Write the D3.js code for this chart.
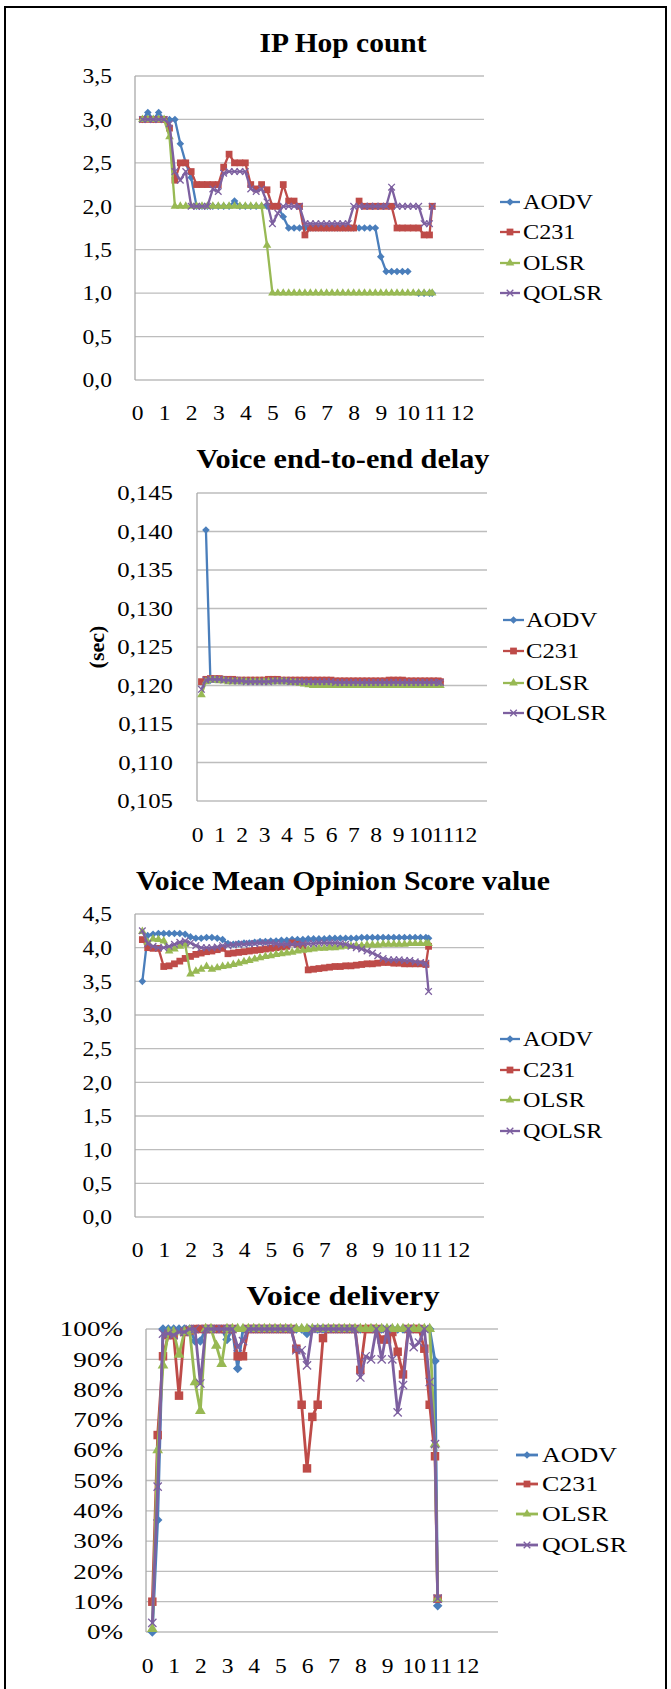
<!DOCTYPE html>
<html>
<head>
<meta charset="utf-8">
<script src="https://cdn.jsdelivr.net/npm/d3@7"></script>
<style>
  body { margin: 0; background: #fff; }
  svg { display: block; }
  text { font-family: 'Liberation Serif', 'Times New Roman', serif; fill: #000; }
</style>
</head>
<body>
<svg id="chart" width="671" height="1689"></svg>
<script>
// ---- data (time in the x unit of the axis) ----
var times = [0.2,0.4,0.6,0.8,1.0,1.2,1.4,1.6,1.8,2.0,
             2.2,2.4,2.6,2.8,3.0,3.2,3.4,3.6,3.8,4.0,
             4.2,4.4,4.6,4.8,5.0,5.2,5.4,5.6,5.8,6.0,
             6.2,6.4,6.6,6.8,7.0,7.2,7.4,7.6,7.8,8.0,
             8.2,8.4,8.6,8.8,9.0,9.2,9.4,9.6,9.8,10.0,
             10.2,10.4,10.6,10.8,10.9];
var xTicks = [0,1,2,3,4,5,6,7,8,9,10,11,12];
var series = ["AODV", "C231", "OLSR", "QOLSR"];

// IP Hop count
var hopTicks = [0,0.5,1,1.5,2,2.5,3,3.5];
var hopAODV = [3.0,3.08,3.0,3.08,3.0,3.0,3.0,2.72,2.5,2.33,
               2.0,2.0,2.0,2.0,2.0,2.0,2.0,2.06,2.0,2.0,
               2.0,2.0,2.0,2.0,2.0,2.0,1.88,1.75,1.75,1.75,
               1.75,1.75,1.75,1.75,1.75,1.75,1.75,1.75,1.75,1.75,
               1.75,1.75,1.75,1.75,1.42,1.25,1.25,1.25,1.25,1.25,
               null,1.0,1.0,1.0,1.0];
var hopC231 = [3.0,3.0,3.0,3.0,3.0,2.9,2.3,2.5,2.5,2.4,
               2.25,2.25,2.25,2.25,2.25,2.45,2.6,2.5,2.5,2.5,
               2.25,2.2,2.25,2.19,2.0,2.0,2.25,2.06,2.06,2.0,
               1.67,1.75,1.75,1.75,1.75,1.75,1.75,1.75,1.75,1.75,
               2.06,2.0,2.0,2.0,2.0,2.0,2.0,1.75,1.75,1.75,
               1.75,1.75,1.67,1.67,2.0];
var hopOLSR = [3.0,3.0,3.0,3.0,3.0,2.8,2.0,2.0,2.0,2.0,
               2.0,2.0,2.0,2.0,2.0,2.0,2.0,2.0,2.0,2.0,
               2.0,2.0,2.0,1.55,1.0,1.0,1.0,1.0,1.0,1.0,
               1.0,1.0,1.0,1.0,1.0,1.0,1.0,1.0,1.0,1.0,
               1.0,1.0,1.0,1.0,1.0,1.0,1.0,1.0,1.0,1.0,
               1.0,1.0,1.0,1.0,1.0];
var hopQOLSR = [3.0,3.0,3.0,3.0,3.0,2.95,2.4,2.3,2.4,2.0,
                2.0,2.0,2.0,2.2,2.17,2.38,2.4,2.4,2.4,2.4,
                2.2,2.17,2.2,2.05,1.8,1.92,2.0,2.0,2.0,2.0,
                1.8,1.8,1.8,1.8,1.8,1.8,1.8,1.8,1.8,2.0,
                2.0,2.0,2.0,2.0,2.0,2.0,2.22,2.0,2.0,2.0,
                2.0,2.0,1.8,1.8,2.0];

// Voice end-to-end delay (sec)
var delayTicks = [0.105,0.11,0.115,0.12,0.125,0.13,0.135,0.14,0.145];
var delayAODV = [null,0.1402,0.1207,0.1208,0.1208,0.1208,0.1207,0.1207,0.1207,0.1206,
                 0.1206,0.1206,0.1206,0.1206,0.1206,0.1206,0.1206,0.1207,0.1206,0.1206,
                 0.1206,0.1206,0.1206,0.1206,0.1205,0.1205,0.1205,0.1205,0.1205,0.1205,
                 0.1205,0.1205,0.1205,0.1205,0.1205,0.1205,0.1205,0.1205,0.1205,0.1205,
                 0.1205,0.1205,0.1205,0.1205,0.1205,0.1205,0.1205,0.1205,0.1205,0.1205,
                 0.1205,0.1205,0.1205,0.1205,0.1205];
var delayC231 = [0.1205,0.1208,0.1209,0.1209,0.1209,0.1208,0.1208,0.1208,0.1207,0.1207,
                 0.1207,0.1207,0.1207,0.1207,0.1207,0.1208,0.1208,0.1208,0.1207,0.1207,
                 0.1207,0.1207,0.1207,0.1207,0.1207,0.1207,0.1207,0.1207,0.1207,0.1207,
                 0.1206,0.1206,0.1206,0.1206,0.1206,0.1206,0.1206,0.1206,0.1206,0.1206,
                 0.1206,0.1206,0.1207,0.1207,0.1207,0.1207,0.1206,0.1206,0.1206,0.1206,
                 0.1206,0.1206,0.1206,0.1206,0.1205];
var delayOLSR = [0.1188,0.1205,0.1207,0.1207,0.1206,0.1206,0.1205,0.1205,0.1205,0.1205,
                 0.1205,0.1205,0.1205,0.1205,0.1205,0.1205,0.1205,0.1205,0.1205,0.1205,
                 0.1204,0.1204,0.1203,0.1202,0.1201,0.1200,0.1200,0.1200,0.1200,0.1200,
                 0.1200,0.1200,0.1200,0.1200,0.1200,0.1200,0.1200,0.1200,0.1200,0.1200,
                 0.1200,0.1200,0.1200,0.1200,0.1200,0.1200,0.1200,0.1200,0.1200,0.1200,
                 0.1200,0.1200,0.1200,0.1200,0.1200];
var delayQOLSR = [0.1195,0.1207,0.1208,0.1208,0.1208,0.1207,0.1207,0.1206,0.1206,0.1206,
                  0.1205,0.1205,0.1205,0.1205,0.1205,0.1205,0.1206,0.1206,0.1206,0.1206,
                  0.1205,0.1205,0.1205,0.1205,0.1205,0.1205,0.1205,0.1205,0.1205,0.1205,
                  0.1204,0.1204,0.1204,0.1204,0.1204,0.1204,0.1204,0.1204,0.1204,0.1204,
                  0.1204,0.1204,0.1204,0.1204,0.1204,0.1204,0.1204,0.1204,0.1204,0.1204,
                  0.1204,0.1204,0.1204,0.1204,0.1204];

// Voice Mean Opinion Score value
var mosTicks = [0,0.5,1,1.5,2,2.5,3,3.5,4,4.5];
var mosAODV = [3.5,4.18,4.2,4.21,4.21,4.21,4.21,4.21,4.2,4.16,
               4.14,4.14,4.15,4.15,4.14,4.12,4.06,4.05,4.06,4.07,
               4.07,4.08,4.09,4.09,4.1,4.1,4.11,4.11,4.12,4.12,
               4.12,4.13,4.13,4.13,4.13,4.14,4.14,4.14,4.14,4.14,
               4.14,4.15,4.15,4.15,4.15,4.15,4.15,4.15,4.15,4.15,
               4.15,4.15,4.15,4.15,4.14];
var mosC231 = [4.12,4.0,3.99,3.99,3.72,3.73,3.76,3.8,3.84,3.87,
               3.9,3.92,3.94,3.95,3.97,3.99,3.91,3.92,3.93,3.94,
               3.95,3.96,3.97,3.98,3.99,4.0,4.01,4.02,4.07,4.05,
               4.03,3.67,3.68,3.69,3.7,3.71,3.72,3.72,3.73,3.73,
               3.74,3.75,3.76,3.76,3.77,3.78,3.78,3.77,3.77,3.76,
               3.76,3.76,3.76,3.75,4.02];
var mosOLSR = [4.24,4.08,4.13,4.12,4.1,3.95,3.98,4.02,4.05,3.61,
               3.65,3.68,3.72,3.68,3.7,3.72,3.73,3.75,3.77,3.79,
               3.81,3.83,3.85,3.87,3.88,3.9,3.91,3.92,3.93,3.95,
               3.96,3.97,3.98,3.99,3.99,4.0,4.0,4.01,4.02,4.02,
               4.03,4.03,4.04,4.04,4.04,4.05,4.05,4.05,4.05,4.05,
               4.06,4.06,4.06,4.06,4.06];
var mosQOLSR = [4.25,4.06,4.02,4.0,4.0,4.02,4.05,4.08,4.1,4.07,
                4.03,4.0,4.0,4.0,4.01,4.03,4.03,4.04,4.05,4.05,
                4.06,4.06,4.07,4.07,4.07,4.06,4.05,4.05,4.05,4.05,
                4.06,4.06,4.06,4.07,4.07,4.07,4.07,4.06,4.05,4.02,
                4.0,3.98,3.95,3.92,3.88,3.84,3.82,3.82,3.82,3.81,
                3.81,3.79,3.78,3.77,3.35];

// Voice delivery (%)
var pctTicks = [0,10,20,30,40,50,60,70,80,90,100];
var delivAODV = [0,37,100,100,100,100,100,100,96,96,
                 100,100,100,100,96.5,100,87,100,100,100,
                 100,100,100,100,100,100,100,100,100,98.5,
                 100,100,100,100,100,100,100,100,100,100,
                 100,100,100,100,100,100,100,100,100,100,
                 100,100,100,89.4,8.7];
var delivC231 = [10,65,91,98,98,78,99,99.5,100,100,
                 100,100,100,100,100,100,91,91,100,100,
                 100,100,100,100,100,100,100,93.5,75,54,
                 71,75,97,100,100,100,100,100,100,86.5,
                 100,100,100,96.5,96.5,99,92.5,85,100,100,
                 100,93.5,75,58,11];
var delivOLSR = [1,60,88,99,99,91.5,99,99.5,82.5,73,
                 100,100,94.5,88.5,100,100,100,100,100,100,
                 100,100,100,100,100,100,100,100,100,100,
                 100,100,100,100,100,100,100,100,100,100,
                 100,100,100,100,100,100,100,100,100,100,
                 100,100,100,62,11];
var delivQOLSR = [3,48,98.5,98.5,98,99,99,100,100,82,
                  100,100,100,100,100,100,94,96,100,100,
                  100,100,100,100,100,100,100,93,93,88,
                  100,100,100,100,100,100,100,100,100,84,
                  91,90,100,90,100,90,72.5,81.5,100,94,
                  95.5,100,82.5,62,11];

// ---- drawing ----
var colors = ["#4a7ebb", "#be4b48", "#98b954", "#7d60a0"];
var loc = d3.formatLocale({decimal: ",", thousands: ".", grouping: [3], currency: ["", "€"]});

var svg = d3.select("#chart");

function stretch(sel, k) {
    sel.each(function () {
        var w = this.getComputedTextLength();
        d3.select(this).attr("textLength", w * k).attr("lengthAdjust", "spacingAndGlyphs");
    });
}

// excel-like markers: diamond, square, triangle, x
function marker(sel, i, s) {
    if (i == 3) {
        var a = 3.3 * s;
        sel.append("path").attr("d", "M" + -a + "," + -a + "L" + a + "," + a + "M" + -a + "," + a + "L" + a + "," + -a)
            .attr("stroke", colors[i]).attr("stroke-width", 1.3).attr("fill", "none");
    } else if (i == 0) {
        var r = 3.8 * s;
        sel.append("path").attr("d", "M0," + -r + "L" + r + ",0L0," + r + "L" + -r + ",0Z").attr("fill", colors[i]);
    } else {
        var type = [null, d3.symbolSquare, d3.symbolTriangle][i];
        var size = [0, 46, 32][i] * s * s;
        sel.append("path").attr("d", d3.symbol(type, size)()).attr("fill", colors[i]);
    }
}

var charts = [
    {title: "IP Hop count", titleY: 52, titleW: 167, ticks: hopTicks, fmt: loc.format(".1f"),
     left: 135, right: 484, top: 76, bottom: 380, x0: 137, x12: 462, yLab: 112, xLab: 413,
     tickK: 1.12, leg: [500, 520, 523], legY: [202, 232, 263, 293], legK: 1.1, ms: 1, lw: 2.3,
     values: [hopAODV, hopC231, hopOLSR, hopQOLSR]},
    {title: "Voice end-to-end delay", titleY: 468, titleW: 293, ticks: delayTicks, fmt: loc.format(".3f"),
     left: 197, right: 487, top: 493, bottom: 801, x0: 197, x12: 465, yLab: 173, xLab: 835,
     tickK: 1.18, leg: [503, 524, 526], legY: [620, 651, 683, 713], legK: 1.12, ms: 1, lw: 2.3,
     values: [delayAODV, delayC231, delayOLSR, delayQOLSR]},
    {title: "Voice Mean Opinion Score value", titleY: 890, titleW: 414, ticks: mosTicks, fmt: loc.format(".1f"),
     left: 135, right: 484, top: 914, bottom: 1217, x0: 137, x12: 458, yLab: 112, xLab: 1250,
     tickK: 1.12, leg: [500, 520, 523], legY: [1039, 1070, 1100, 1131], legK: 1.1, ms: 1, lw: 2.3,
     values: [mosAODV, mosC231, mosOLSR, mosQOLSR]},
    {title: "Voice delivery", titleY: 1305, titleW: 193, ticks: pctTicks, fmt: function (d) { return d + "%"; },
     left: 146, right: 498, top: 1329, bottom: 1632, x0: 147, x12: 467, yLab: 123, xLab: 1666,
     tickK: 1.29, leg: [516, 538, 542], legY: [1455, 1484, 1514, 1545], legK: 1.18, ms: 1.25, lw: 2.8,
     values: [delivAODV, delivC231, delivOLSR, delivQOLSR]}
];

// outer frame
svg.append("rect").attr("x", 5).attr("y", 7).attr("width", 661).attr("height", 1720)
    .attr("fill", "none").attr("stroke", "#000").attr("stroke-width", 2);

charts.forEach(function (c) {
    var g = svg.append("g");
    var x = d3.scaleLinear().domain([0, 12]).range([c.x0, c.x12]);
    var y = d3.scaleLinear().domain([c.ticks[0], c.ticks[c.ticks.length - 1]]).range([c.bottom, c.top]);

    // gridlines
    g.append("g").selectAll("line").data(c.ticks).join("line")
        .attr("x1", c.left).attr("x2", c.right)
        .attr("y1", function (d) { return y(d); }).attr("y2", function (d) { return y(d); })
        .attr("stroke", "#bdbdbd").attr("stroke-width", 1.3);
    g.append("line").attr("x1", c.left).attr("x2", c.left).attr("y1", c.top).attr("y2", c.bottom)
        .attr("stroke", "#a9a9a9").attr("stroke-width", 1.3);

    // title
    g.append("text").attr("x", 343).attr("y", c.titleY).attr("text-anchor", "middle")
        .attr("font-size", 28).attr("font-weight", "bold")
        .attr("textLength", c.titleW).attr("lengthAdjust", "spacingAndGlyphs")
        .text(c.title);

    // y tick labels
    var ya = g.append("g").attr("transform", "translate(" + c.yLab + ",0)")
        .call(d3.axisLeft(y).tickValues(c.ticks).tickSize(0).tickPadding(0).tickFormat(c.fmt));
    ya.attr("font-size", 21).attr("font-family", null);
    ya.select(".domain").remove();
    stretch(ya.selectAll("text"), c.tickK);

    // x tick labels
    var xa = g.append("g").attr("transform", "translate(0," + c.xLab + ")")
        .call(d3.axisBottom(x).tickValues(xTicks).tickSize(0).tickFormat(d3.format("d")));
    xa.attr("font-size", 21).attr("font-family", null);
    xa.select(".domain").remove();
    xa.selectAll("text").attr("y", 0).attr("dy", "0.35em");
    stretch(xa.selectAll("text"), 1.12);

    // series
    series.forEach(function (name, i) {
        var pts = times.map(function (t, j) { return {t: t, v: c.values[i][j]}; });
        var line = d3.line().defined(function (d) { return d.v != null; })
            .x(function (d) { return x(d.t); }).y(function (d) { return y(d.v); });
        g.append("path").datum(pts).attr("d", line)
            .attr("fill", "none").attr("stroke", colors[i]).attr("stroke-width", c.lw)
            .attr("stroke-linejoin", "round");
        var m = g.append("g").selectAll("g").data(pts.filter(function (d) { return d.v != null; }))
            .join("g").attr("transform", function (d) { return "translate(" + x(d.t) + "," + y(d.v) + ")"; });
        marker(m, i, c.ms);

        // legend
        var ly = c.legY[i];
        g.append("line").attr("x1", c.leg[0]).attr("x2", c.leg[1]).attr("y1", ly).attr("y2", ly)
            .attr("stroke", colors[i]).attr("stroke-width", c.lw);
        marker(g.append("g").attr("transform", "translate(" + (c.leg[0] + c.leg[1]) / 2 + "," + ly + ")"), i, 1);
        var lt = g.append("text").attr("x", c.leg[2]).attr("y", ly).attr("dy", "0.34em")
            .attr("font-size", 22).text(name);
        stretch(lt, c.legK);
    });
});

// y axis title of the delay chart
svg.append("text").attr("transform", "translate(104,647) rotate(-90)")
    .attr("text-anchor", "middle").attr("font-size", 22).attr("font-weight", "bold")
    .text("(sec)");
</script>
</body>
</html>
